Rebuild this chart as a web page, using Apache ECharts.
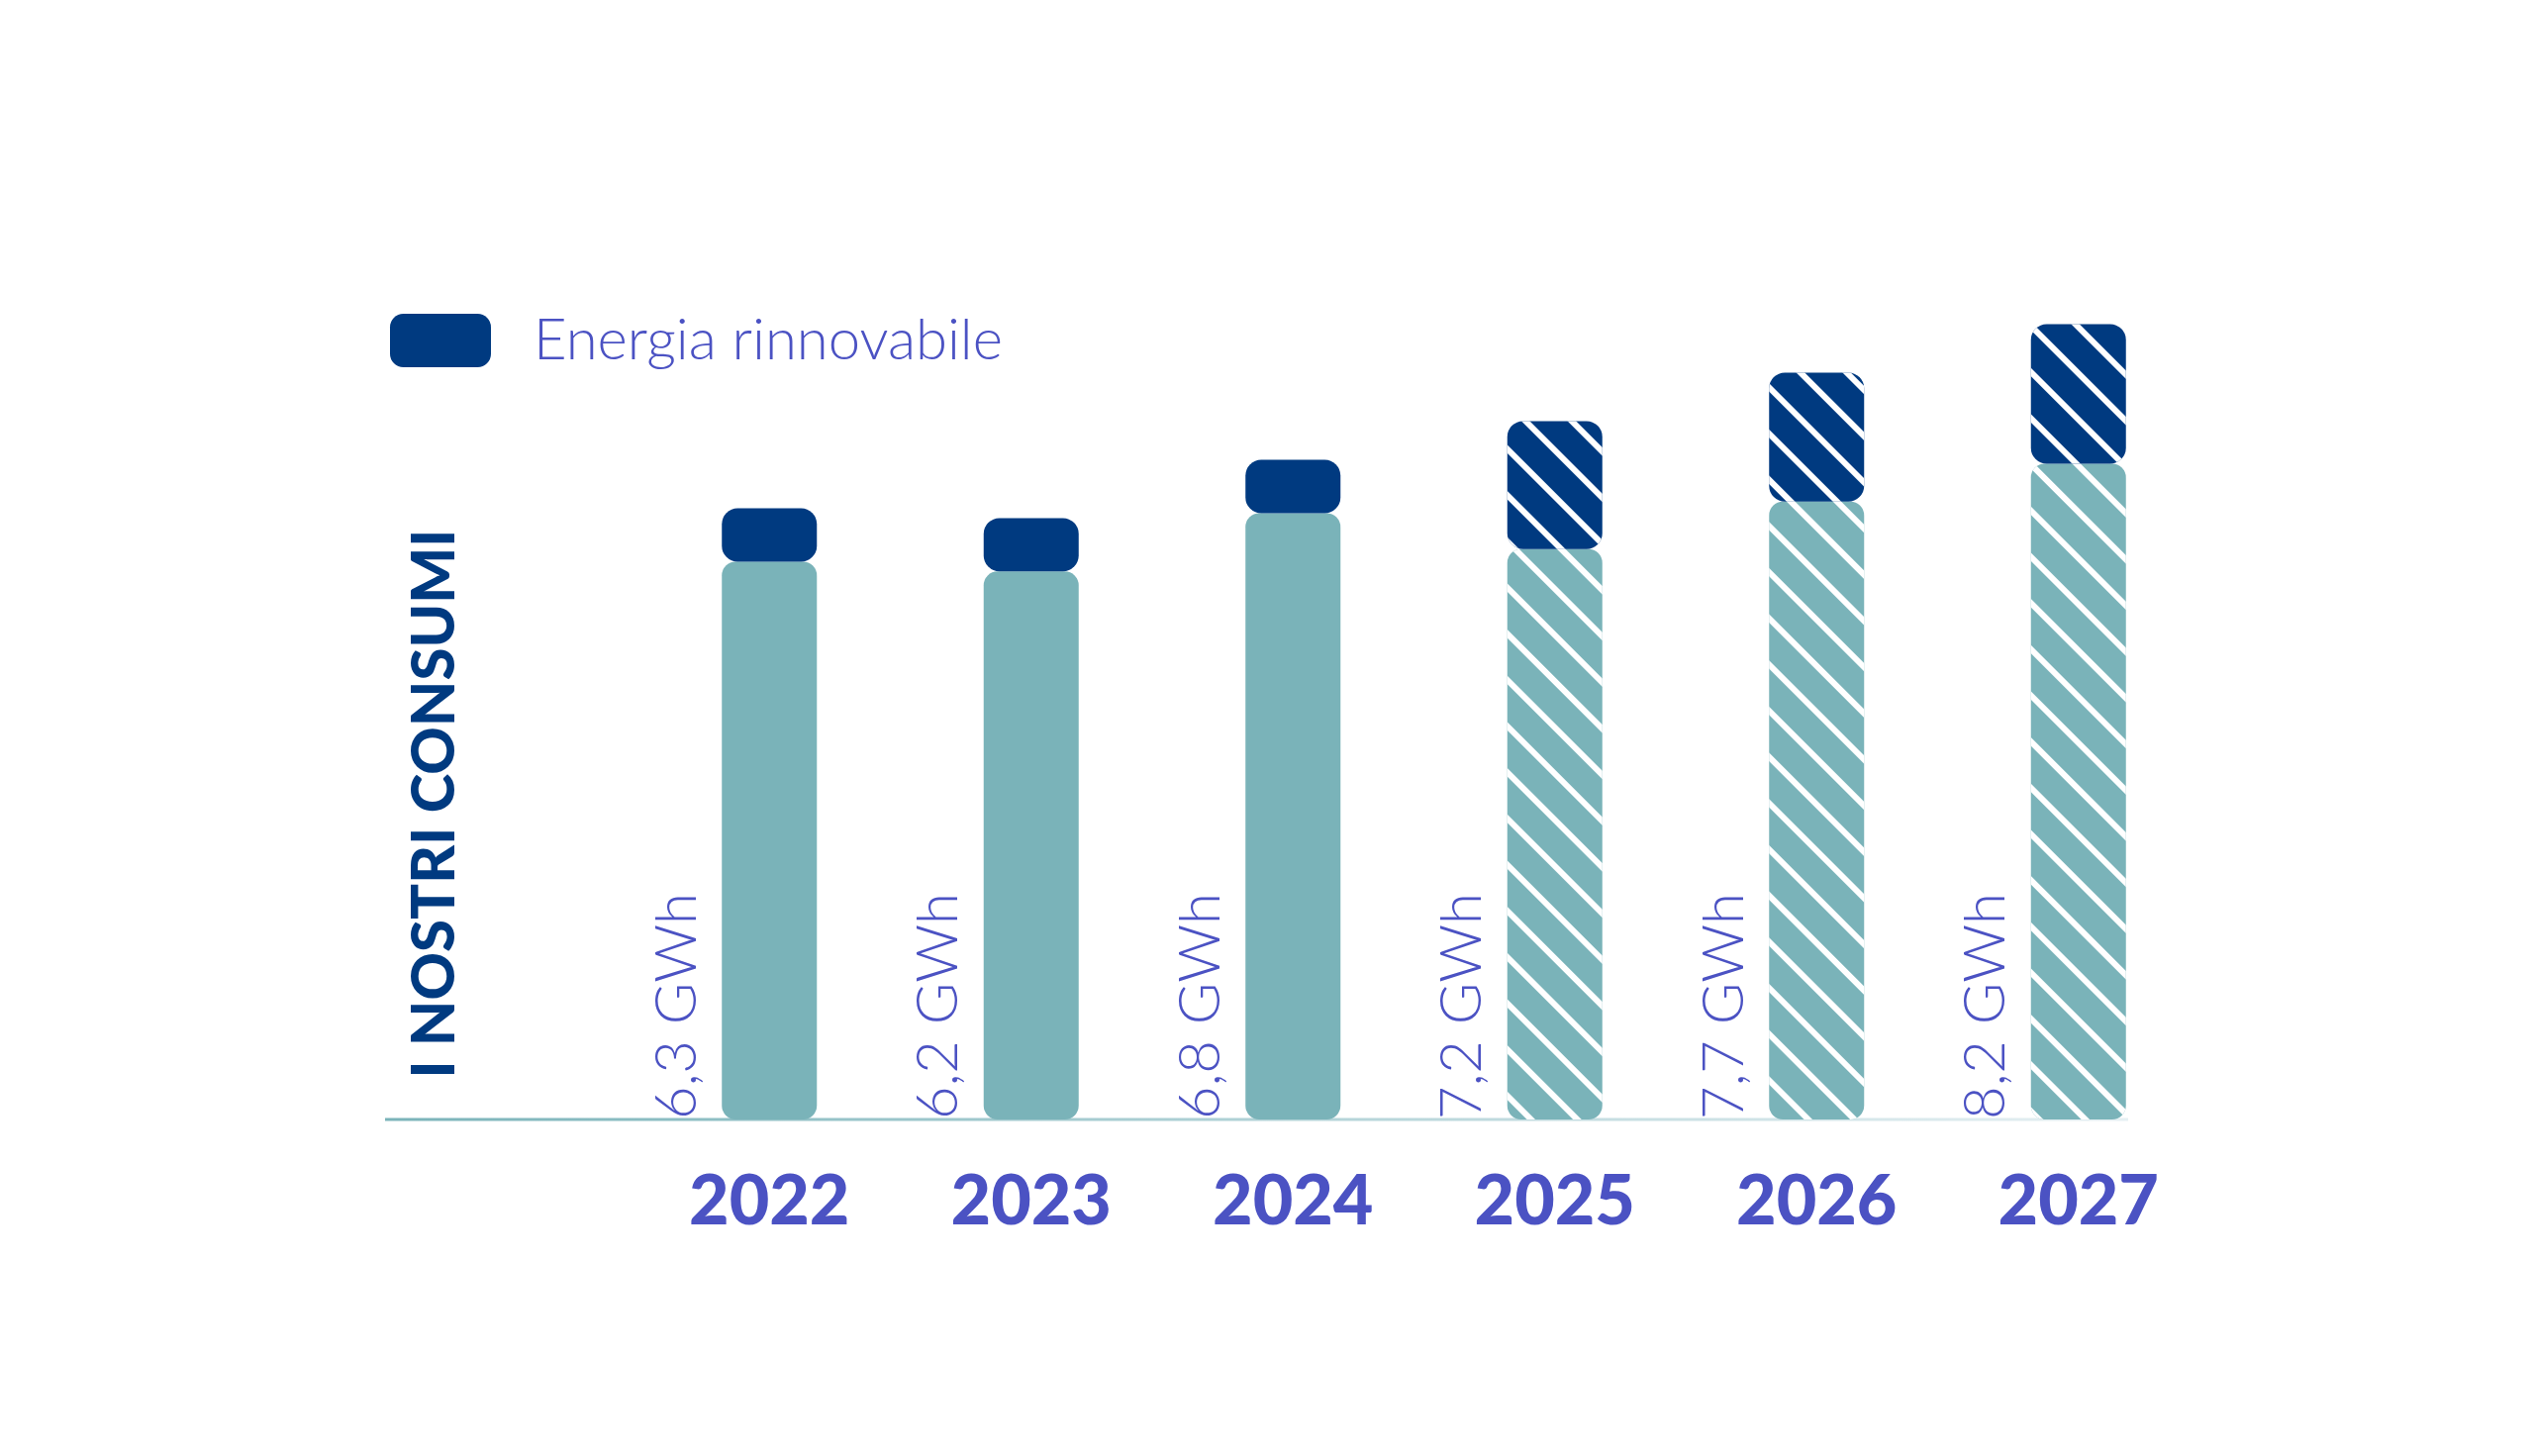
<!DOCTYPE html>
<html><head><meta charset="utf-8">
<script src="https://cdn.jsdelivr.net/npm/echarts@6/dist/echarts.min.js"></script>
<style>html,body{margin:0;padding:0;background:#fff}#c{width:2560px;height:1471px}</style>
</head><body><div id="c"></div>
<script>
var years = ['2022','2023','2024','2025','2026','2027'];
var totals = [6.3, 6.2, 6.8, 7.2, 7.7, 8.2];
var renewable = [0.55, 0.55, 0.55, 1.32, 1.33, 1.44];
var totalLabels = ['6,3 GWh','6,2 GWh','6,8 GWh','7,2 GWh','7,7 GWh','8,2 GWh'];
var forecast = [false, false, false, true, true, true];

var TEAL = '#7ab3b9', NAVY = '#003a80', TXT = '#4b52c3';
var decal = {symbol:'rect', symbolSize:1, color:'#ffffff', dashArrayX:[1,0], dashArrayY:[6,27], rotation:Math.PI/4};

var other = totals.map(function(t,i){ return +(t - renewable[i]).toFixed(2); });

var chart = echarts.init(document.getElementById('c'), null, {renderer:'canvas'});
chart.setOption({
  backgroundColor:'#fff',
  animation:false,
  grid:{left:645, right:328, top:151, bottom:340},
  legend:{
    left:389, top:310, itemWidth:102, itemHeight:54, icon:'roundRect',
    data:['Energia rinnovabile'],
    textStyle:{fontFamily:'Lato', fontSize:58, color:TXT, fontWeight:300, padding:[0,0,0,38]}
  },
  xAxis:{type:'category', data:years,
    axisLine:{show:false}, axisTick:{show:false},
    axisLabel:{fontFamily:'Lato', fontWeight:900, fontSize:70, color:TXT, margin:48}},
  yAxis:{type:'value', min:0, max:10, show:false, splitLine:{show:false}},
  series:[
    {name:'Altro', type:'bar', stack:'s', barWidth:96,
     data: other.map(function(v,i){
       return {value:v, itemStyle:{color:TEAL, borderRadius:14, decal: forecast[i]?decal:null}};
     }),
     label:{show:true, rotate:90, position:[-16,'100%'], align:'left', verticalAlign:'bottom',
       fontFamily:'Lato', fontWeight:300, fontSize:58, color:TXT,
       formatter:function(p){ return totalLabels[p.dataIndex]; }}
    },
    {name:'Energia rinnovabile', type:'bar', stack:'s', barWidth:96,
     itemStyle:{color:NAVY},
     data: renewable.map(function(v,i){
       return {value:v, itemStyle:{color:NAVY, borderRadius:16, decal: forecast[i]?decal:null}};
     })
    }
  ],
  graphic:[
    {type:'line', shape:{x1:389, y1:1131, x2:2150, y2:1131},
     style:{lineWidth:3, stroke:new echarts.graphic.LinearGradient(0,0,1,0,[{offset:0,color:'#7ab3b9'},{offset:1,color:'#e6f0f3'}])}},
    {type:'text', x:440, y:812, rotation:Math.PI/2,
     style:{text:'I NOSTRI CONSUMI', fontFamily:'Lato', fontWeight:900, fontSize:60, fill:NAVY,
       textAlign:'center', textVerticalAlign:'middle'}}
  ]
});
</script></body></html>
